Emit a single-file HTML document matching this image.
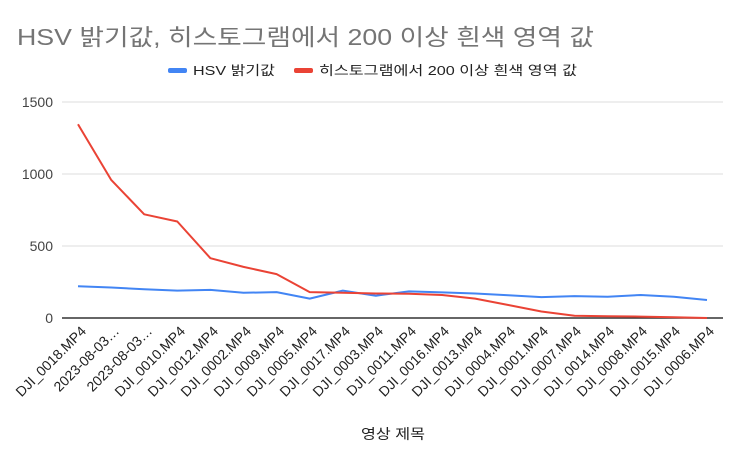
<!DOCTYPE html>
<html><head><meta charset="utf-8"><style>
body{margin:0;background:#fff;}
svg text{font-family:"Liberation Sans","Noto Sans CJK KR",sans-serif;}
</style></head><body>
<svg width="744" height="463" xmlns="http://www.w3.org/2000/svg">
<rect width="744" height="463" fill="#fff"/>
<text x="17" y="45" font-size="23" fill="#757575" textLength="577" lengthAdjust="spacingAndGlyphs">HSV 밝기값, 히스토그램에서 200 이상 흰색 영역 값</text>
<rect x="168" y="68" width="19" height="5" rx="2" fill="#4285f4"/>
<text x="193" y="75" font-size="13" fill="#222" textLength="82" lengthAdjust="spacingAndGlyphs">HSV 밝기값</text>
<rect x="294" y="68" width="19" height="5" rx="2" fill="#ea4335"/>
<text x="319" y="75" font-size="13" fill="#222" textLength="258" lengthAdjust="spacingAndGlyphs">히스토그램에서 200 이상 흰색 영역 값</text>
<g stroke="#dcdcdc" stroke-width="1">
<line x1="62" y1="102" x2="723" y2="102"/>
<line x1="62" y1="174" x2="723" y2="174"/>
<line x1="62" y1="246" x2="723" y2="246"/>
</g>
<line x1="62" y1="318" x2="723" y2="318" stroke="#333" stroke-width="1.5"/>
<g font-size="14" fill="#444" text-anchor="end">
<text x="53" y="107">1500</text><text x="53" y="179">1000</text><text x="53" y="251">500</text><text x="53" y="323">0</text>
</g>
<polyline fill="none" stroke="#4285f4" stroke-width="2" stroke-linejoin="round" points="78,286.3 111.1,287.5 144.2,289.2 177.3,290.6 210.4,289.9 243.5,292.8 276.6,292.1 309.7,298.6 342.8,290.6 375.9,295.7 409,291.4 442.1,292.4 475.2,293.5 508.3,295.2 541.4,297.1 574.5,296.1 607.6,296.7 640.7,295 673.8,296.7 707,300"/>
<polyline fill="none" stroke="#ea4335" stroke-width="2" stroke-linejoin="round" points="78,124.3 111.1,179.8 144.2,214.3 177.3,221.5 210.4,258.2 243.5,266.9 276.6,274.1 309.7,292.1 342.8,292.8 375.9,293.5 409,293.8 442.1,295 475.2,298.6 508.3,305 541.4,311.5 574.5,315.8 607.6,316.3 640.7,316.6 673.8,317.3 707,318"/>
<g font-size="14" fill="#222" text-anchor="end">
<text transform="translate(87,332) rotate(-45)">DJI_0018.MP4</text>
<text transform="translate(120,332) rotate(-45)">2023-08-03…</text>
<text transform="translate(153,332) rotate(-45)">2023-08-03…</text>
<text transform="translate(186,332) rotate(-45)">DJI_0010.MP4</text>
<text transform="translate(219,332) rotate(-45)">DJI_0012.MP4</text>
<text transform="translate(252,332) rotate(-45)">DJI_0002.MP4</text>
<text transform="translate(285,332) rotate(-45)">DJI_0009.MP4</text>
<text transform="translate(318,332) rotate(-45)">DJI_0005.MP4</text>
<text transform="translate(351,332) rotate(-45)">DJI_0017.MP4</text>
<text transform="translate(384,332) rotate(-45)">DJI_0003.MP4</text>
<text transform="translate(417,332) rotate(-45)">DJI_0011.MP4</text>
<text transform="translate(450,332) rotate(-45)">DJI_0016.MP4</text>
<text transform="translate(483,332) rotate(-45)">DJI_0013.MP4</text>
<text transform="translate(516,332) rotate(-45)">DJI_0004.MP4</text>
<text transform="translate(549,332) rotate(-45)">DJI_0001.MP4</text>
<text transform="translate(582,332) rotate(-45)">DJI_0007.MP4</text>
<text transform="translate(615,332) rotate(-45)">DJI_0014.MP4</text>
<text transform="translate(648,332) rotate(-45)">DJI_0008.MP4</text>
<text transform="translate(681,332) rotate(-45)">DJI_0015.MP4</text>
<text transform="translate(715,332) rotate(-45)">DJI_0006.MP4</text>
</g>
<text x="393" y="439" font-size="14" fill="#222" text-anchor="middle" textLength="64" lengthAdjust="spacingAndGlyphs">영상 제목</text>
</svg>
</body></html>
